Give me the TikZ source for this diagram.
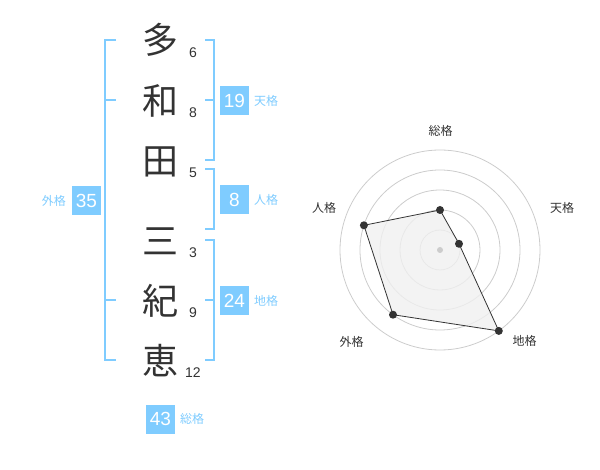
\documentclass[tikz,border=0pt]{standalone}
\usepackage{fontspec}
\setmainfont{Liberation Sans}
\newfontfamily\jp{Noto Sans CJK JP}
\definecolor{kblue}{RGB}{127,204,255}
\definecolor{ktext}{RGB}{51,51,51}
\definecolor{kring}{RGB}{204,204,204}
\definecolor{kfill}{RGB}{240,240,240}
\tikzset{
  kanji/.style={font=\jp\fontsize{36}{36}\selectfont, text=ktext, inner sep=0pt, text height=31.7pt, text depth=4.3pt},
  strokes/.style={font=\fontsize{14}{14}\selectfont, text=ktext, inner sep=0pt},
  numbox/.style={fill=kblue, text=white, font=\fontsize{19}{19}\selectfont, minimum width=29pt, minimum height=29pt, inner sep=0pt},
  kaku/.style={font=\jp\fontsize{12}{12}\selectfont, text=kblue, inner sep=0pt},
  bracket/.style={draw=kblue, line width=2pt},
  ring/.style={draw=kring, line width=0.8pt},
  radarlabel/.style={font=\jp\fontsize{12}{12}\selectfont, text=ktext, inner sep=0pt},
  dot/.style={circle, fill=ktext, inner sep=0pt, minimum size=8pt},
}
\begin{document}
\begin{tikzpicture}[x=1pt,y=-1pt]
\useasboundingbox (0,0) rectangle (600,470);
% name characters
\node[kanji] (c1) at (160,40) {多};
\node[kanji] (c2) at (160,101) {和};
\node[kanji] (c3) at (160,161) {田};
\node[kanji] (c4) at (160,241) {三};
\node[kanji] (c5) at (160,301) {紀};
\node[kanji] (c6) at (160,361) {恵};
% stroke counts
\node[strokes] (s1) at (193,53) {6};
\node[strokes] (s2) at (193,113) {8};
\node[strokes] (s3) at (193,173) {5};
\node[strokes] (s4) at (193,253) {3};
\node[strokes] (s5) at (193,313) {9};
\node[strokes] (s6) at (193,373) {12};
% brackets
\draw[bracket] (116,40) -- (105,40) -- (105,360) -- (116,360);
\draw[bracket] (105,100) -- (116,100);
\draw[bracket] (105,300) -- (116,300);
\draw[bracket] (205,40) -- (214,40) -- (214,160) -- (205,160);
\draw[bracket] (205,100) -- (214,100);
\draw[bracket] (205,169) -- (214,169) -- (214,229) -- (205,229);
\draw[bracket] (205,240) -- (214,240) -- (214,360) -- (205,360);
\draw[bracket] (205,300) -- (214,300);
% score boxes
\node[numbox] (gai) at (86.5,201) {35};
\node[kaku, anchor=east] (gail) at (66,201) {外格};
\node[numbox] (ten) at (234.5,100.5) {19};
\node[kaku, anchor=west] (tenl) at (254,101) {天格};
\node[numbox] (jin) at (234.5,200) {8};
\node[kaku, anchor=west] (jinl) at (254,200) {人格};
\node[numbox] (chi) at (234.5,300.5) {24};
\node[kaku, anchor=west] (chil) at (254,301) {地格};
\node[numbox] (sou) at (160.5,419) {43};
\node[kaku, anchor=west] (soul) at (180,419) {総格};
% radar chart
\coordinate (ctr) at (440,250);
\foreach \r in {20,40,60,80,100} \draw[ring] (ctr) circle (\r pt);
\coordinate (p1) at (440,210);
\coordinate (p2) at (459.0,243.8);
\coordinate (p3) at (498.8,330.9);
\coordinate (p4) at (393.0,314.7);
\coordinate (p5) at (363.9,225.3);
\draw[fill=kfill, fill opacity=0.8, draw=ktext, line width=0.8pt] (p1) -- (p2) -- (p3) -- (p4) -- (p5) -- cycle;
\node[circle, fill=kring, inner sep=0pt, minimum size=6pt] (cdot) at (ctr) {};
\foreach \p in {p1,p2,p3,p4,p5} \node[dot] at (\p) {};
\node[radarlabel] (l1) at (440.5,131) {総格};
\node[radarlabel] (l2) at (562,208) {天格};
\node[radarlabel] (l3) at (524.5,341) {地格};
\node[radarlabel] (l4) at (351.5,342) {外格};
\node[radarlabel] (l5) at (324,208) {人格};
\end{tikzpicture}
\end{document}
